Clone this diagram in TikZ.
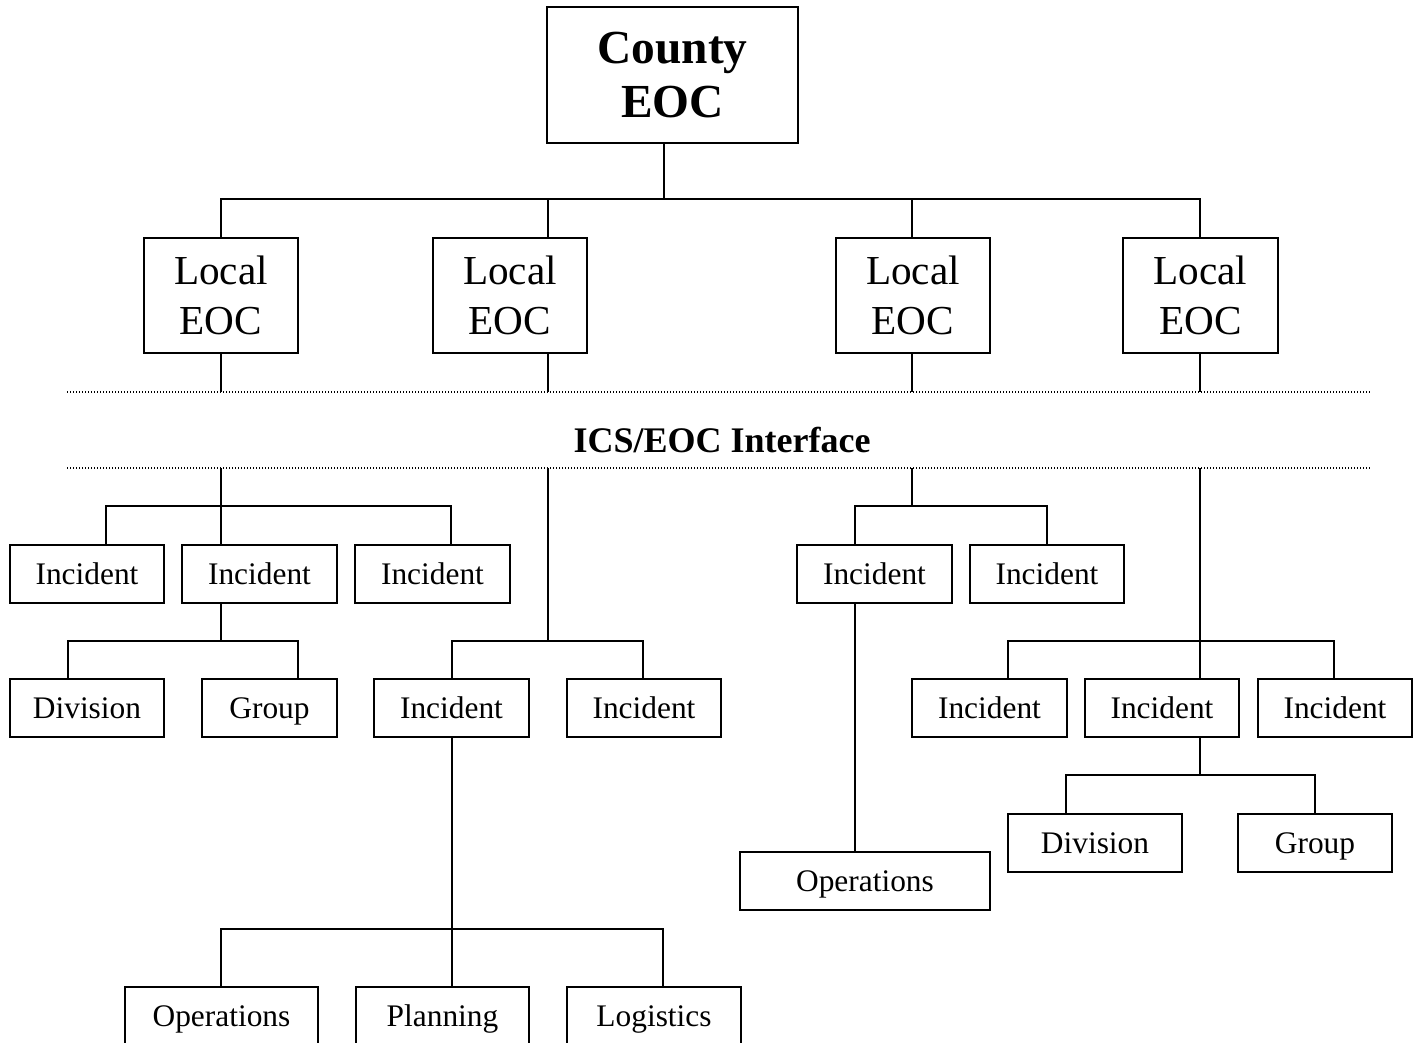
\documentclass[tikz,border=0pt]{standalone}
\usepackage{fontspec}
\setmainfont{Liberation Serif}
% a box given by two opposite corners, in pixel-sized units
\newcommand\cornerbox[7]{%
  \pgfmathsetmacro\cbxc{(#3+#5)/2}%
  \pgfmathsetmacro\cbyc{(#4+#6)/2}%
  \pgfmathsetmacro\cbw{(#5-#3)*0.5}%
  \pgfmathsetmacro\cbh{(#6-#4)*0.5}%
  \node[#1, minimum width=\cbw pt, minimum height=\cbh pt] (#2) at (\cbxc,\cbyc) {#7};}
\begin{document}
\begin{tikzpicture}[x=0.5pt,y=-0.5pt,
  frame/.style={draw, line width=1pt, inner sep=0pt, align=center},
  box/.style={frame, font=\fontsize{15.7}{19}\selectfont,
    text height=10.4pt, text depth=0pt},
  localbox/.style={frame, font=\fontsize{20.6}{25}\selectfont},
  countybox/.style={frame, font=\bfseries\fontsize{23.7}{27}\selectfont},
  link/.style={line width=1pt},
  interface/.style={line width=0.6pt, dash pattern=on 0.5pt off 1pt},
  banner/.style={font=\bfseries\fontsize{18}{20}\selectfont}]
\clip (0,0) rectangle (1423,1043);
\useasboundingbox (0,0) rectangle (1423,1043);

% county and local EOCs
\cornerbox{countybox}{county}{547}{7}{798}{143}{County\\EOC}
\cornerbox{localbox}{l1}{144}{238}{298}{353}{Local\\EOC}
\cornerbox{localbox}{l2}{433}{238}{587}{353}{Local\\EOC}
\cornerbox{localbox}{l3}{836}{238}{990}{353}{Local\\EOC}
\cornerbox{localbox}{l4}{1123}{238}{1278}{353}{Local\\EOC}

\coordinate (top) at (664,199);
\coordinate (b1) at (221,199);
\coordinate (b2) at (548,199);
\coordinate (b3) at (912,199);
\coordinate (b4) at (1200,199);
\draw[link] (county.south -| top) -- (top);
\draw[link] (l1.north -| b1) |- (b4) -- (l4.north -| b4);
\draw[link] (l2.north -| b2) -- (b2);
\draw[link] (l3.north -| b3) -- (b3);

% interface band
\coordinate (upper) at (0,392);
\coordinate (lower) at (0,468);
\draw[interface] (67,392) -- (1370,392);
\draw[interface] (67,468) -- (1370,468);
\node[banner] (ics) at (722,440) {ICS/EOC Interface};

\draw[link] (l1.south -| b1) -- (b1 |- upper);
\draw[link] (l2.south -| b2) -- (b2 |- upper);
\draw[link] (l3.south -| b3) -- (b3 |- upper);
\draw[link] (l4.south -| b4) -- (b4 |- upper);

% first local EOC
\cornerbox{box}{a1}{10}{545}{164}{603}{Incident}
\cornerbox{box}{a2}{182}{545}{337}{603}{Incident}
\cornerbox{box}{a3}{355}{545}{510}{603}{Incident}
\coordinate (ja) at (221,506);
\coordinate (ja1) at (106,506);
\coordinate (ja3) at (451,506);
\draw[link] (b1 |- lower) -- (a2.north -| ja);
\draw[link] (a1.north -| ja1) |- (ja3) -- (a3.north -| ja3);

\cornerbox{box}{div1}{10}{679}{164}{737}{Division}
\cornerbox{box}{grp1}{202}{679}{337}{737}{Group}
\coordinate (jb) at (221,641);
\coordinate (jb1) at (68,641);
\coordinate (jb2) at (298,641);
\draw[link] (a2.south -| jb) -- (jb);
\draw[link] (div1.north -| jb1) |- (jb2) -- (grp1.north -| jb2);

% second local EOC
\cornerbox{box}{c1}{374}{679}{529}{737}{Incident}
\cornerbox{box}{c2}{567}{679}{721}{737}{Incident}
\coordinate (jc) at (548,641);
\coordinate (jc1) at (452,641);
\coordinate (jc2) at (643,641);
\draw[link] (b2 |- lower) -- (jc);
\draw[link] (c1.north -| jc1) |- (jc2) -- (c2.north -| jc2);

\cornerbox{box}{d1}{125}{987}{318}{1045}{Operations}
\cornerbox{box}{d2}{356}{987}{529}{1045}{Planning}
\cornerbox{box}{d3}{567}{987}{741}{1045}{Logistics}
\coordinate (jd) at (452,929);
\coordinate (jd1) at (221,929);
\coordinate (jd3) at (663,929);
\draw[link] (c1.south -| jd) -- (d2.north -| jd);
\draw[link] (d1.north -| jd1) |- (jd3) -- (d3.north -| jd3);

% third local EOC
\cornerbox{box}{e1}{797}{545}{952}{603}{Incident}
\cornerbox{box}{e2}{970}{545}{1124}{603}{Incident}
\coordinate (je) at (912,506);
\coordinate (je1) at (855,506);
\coordinate (je2) at (1047,506);
\draw[link] (b3 |- lower) -- (je);
\draw[link] (e1.north -| je1) |- (je2) -- (e2.north -| je2);

\cornerbox{box}{f1}{740}{852}{990}{910}{Operations}
\draw[link] (e1.south -| je1) -- (f1.north -| je1);

% fourth local EOC
\cornerbox{box}{g1}{912}{679}{1067}{737}{Incident}
\cornerbox{box}{g2}{1085}{679}{1239}{737}{Incident}
\cornerbox{box}{g3}{1258}{679}{1412}{737}{Incident}
\coordinate (jg) at (1200,641);
\coordinate (jg1) at (1008,641);
\coordinate (jg3) at (1334,641);
\draw[link] (b4 |- lower) -- (g2.north -| jg);
\draw[link] (g1.north -| jg1) |- (jg3) -- (g3.north -| jg3);

\cornerbox{box}{h1}{1008}{814}{1182}{872}{Division}
\cornerbox{box}{h2}{1238}{814}{1392}{872}{Group}
\coordinate (jh) at (1200,775);
\coordinate (jh1) at (1066,775);
\coordinate (jh2) at (1315,775);
\draw[link] (g2.south -| jh) -- (jh);
\draw[link] (h1.north -| jh1) |- (jh2) -- (h2.north -| jh2);
\end{tikzpicture}
\end{document}
